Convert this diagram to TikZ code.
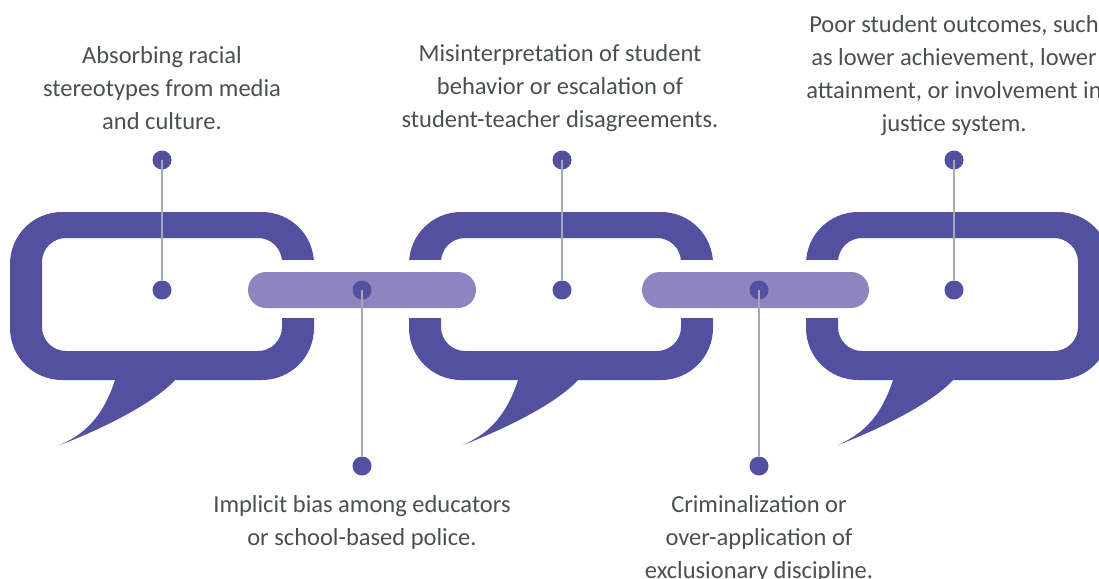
\documentclass[tikz,border=0pt]{standalone}
\usepackage{fontspec}
\setmainfont{Carlito}
\usepackage{tikz}

\definecolor{linkcol}{HTML}{5450A0}
\definecolor{barcol}{HTML}{8F85BE}
\definecolor{stemcol}{HTML}{A3AAB0}
\definecolor{txtcol}{HTML}{4A504E}

\tikzset{
  dot/.style={circle, fill=linkcol, inner sep=0pt, minimum size=19pt},
  stem/.style={draw=stemcol, line width=1.5pt},
  caption/.style={align=center, text=txtcol, inner sep=0pt,
    font=\fontsize{24.5}{33}\selectfont},
  bar/.style={fill=barcol, rounded corners=18}
}

% one link of the chain: #1 = centre x, #2 = left x of the tail base
\newcommand\chainlink[2]{%
  \fill[linkcol, even odd rule]
    [rounded corners=52] (#1-152,212) rectangle (#1+152,380)
    [rounded corners=24] (#1-120,238) rectangle (#1+120,351);
  \fill[linkcol] (#2,370) -- (#2+60,370) -- (#2+60,380)
    .. controls (#2+42,400) and (#2-3,425) .. (#2-55,445)
    .. controls (#2-33,435) and (#2-13,420) .. (#2,380) -- cycle;
}

\begin{document}
\begin{tikzpicture}[x=1pt, y=-1pt]
    \useasboundingbox (0,0) rectangle (1099,578);
    \clip (0,0) rectangle (1099,578);

    % links
    \chainlink{162}{115}
    \chainlink{561}{518}
    \chainlink{958}{893}

    % gaps where the bars pass
    \fill[white] (272,260) rectangle (450,318);
    \fill[white] (670,260) rectangle (848,318);
    \fill[bar] (248,272) rectangle (476,308);
    \fill[bar] (642,272) rectangle (869,308);

    % dots
    \node [dot] (t1) at (162,160) {};
    \node [dot] (t2) at (562,160) {};
    \node [dot] (t3) at (954,160) {};
    \node [dot] (m1) at (162,290) {};
    \node [dot] (m2) at (562,290) {};
    \node [dot] (m3) at (954,290) {};
    \node [dot] (b1) at (362,290) {};
    \node [dot] (b2) at (759,290) {};
    \node [dot] (d1) at (362,466) {};
    \node [dot] (d2) at (759,466) {};

    \draw [stem] (t1.center) -- (m1);
    \draw [stem] (t2.center) -- (m2);
    \draw [stem] (t3.center) -- (m3);
    \draw [stem] (b1.center) -- (d1);
    \draw [stem] (b2.center) -- (d2);

    % captions
    \node [caption] (c1) at (162,88) {Absorbing racial\\stereotypes from media\\and culture.};
    \node [caption] (c2) at (560,88) {Misinterpretation of student\\behavior or escalation of\\student-teacher disagreements.};
    \node [caption] (c3) at (954,76) {Poor student outcomes, such\\as lower achievement, lower\\attainment, or involvement in\\justice system.};
    \node [caption] (c4) at (362,522) {Implicit bias among educators\\or school-based police.};
    \node [caption] (c5) at (759,539) {Criminalization or\\over-application of\\exclusionary discipline.};
\end{tikzpicture}
\end{document}
